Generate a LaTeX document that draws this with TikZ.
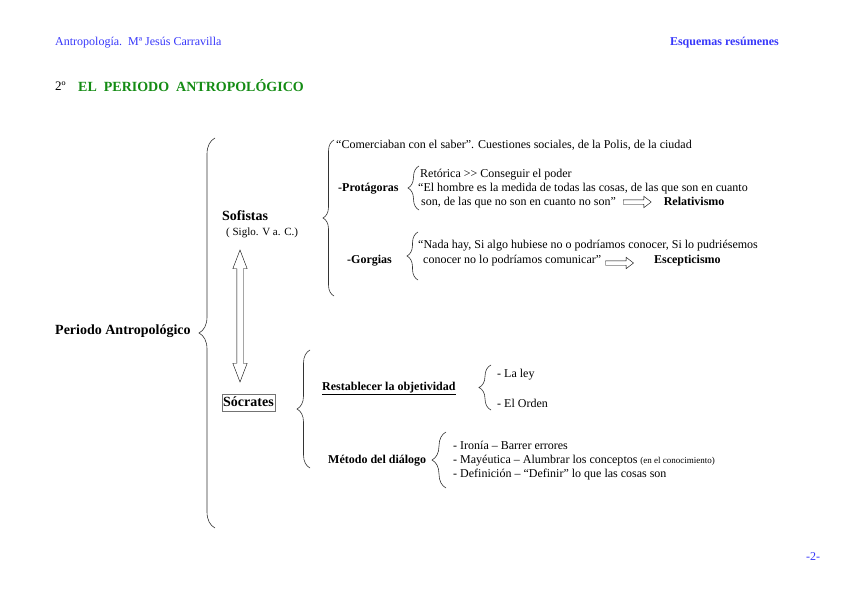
\documentclass[tikz,border=0pt]{standalone}
\usepackage{fontspec}
\setmainfont{Liberation Serif}
\usetikzlibrary{positioning,decorations.pathreplacing,shapes.arrows}
\definecolor{headblue}{RGB}{55,55,250}
\definecolor{titlegreen}{RGB}{20,140,20}

\begin{document}
\begin{tikzpicture}[
  x=1pt, y=-1pt,
  txt/.style={inner sep=0pt, anchor=west, text height=8.5pt, text depth=2.5pt,
    font=\fontsize{12}{14}\selectfont},
  bold/.style={txt, font=\fontsize{12}{14}\selectfont\bfseries},
  big/.style={txt, text height=10pt, text depth=3pt,
    font=\fontsize{14}{16}\selectfont\bfseries},
  curly/.style={decorate, decoration={brace, amplitude=#1}, line width=0.6pt,
    draw=black!80},
  hollow/.style={single arrow, draw, inner sep=2pt, minimum height=28pt,
    single arrow head extend=3.5pt, single arrow tip angle=75},
  node distance=6pt
]
\useasboundingbox (0,0) rectangle (848,599);

% page header
\node[txt, text=headblue] (author) at (55,43) {Antropología.\ \ Mª Jesús Carravilla};
\node[bold, text=headblue, anchor=east] (esq) at (779,43) {Esquemas resúmenes};
\node[txt, font=\fontsize{13}{15}\selectfont] (num) at (55,88) {2º};
\node[big, text=titlegreen] (title) at (78,88) {EL\ \ PERIODO\ \ ANTROPOLÓGICO};

% left column
\node[big] (peri) at (55,331) {Periodo Antropológico};
\node[big] (sof) at (222,217) {Sofistas};
\node[txt, font=\fontsize{11}{13}\selectfont] (siglo) at (226,232) {( Siglo. V a. C.)};
\node[big, draw=black!55, inner xsep=1pt, minimum height=17pt] (soc) at (222,403) {Sócrates};
\node[double arrow, draw, inner sep=3pt, minimum height=132pt,
  double arrow head extend=4pt, double arrow tip angle=42, rotate=90] (dblarrow) at (240,316) {};

% sofistas
\node[txt] (comer) at (336,146) {“Comerciaban con el saber”. Cuestiones sociales, de la Polis, de la ciudad};
\node[bold] (prot) at (338,188) {-Protágoras};
\node[txt] (ret) at (420,174) {Retórica >{}> Conseguir el poder};
\node[txt] (hombre) at (418,188) {“El hombre es la medida de todas las cosas, de las que son en cuanto};
\node[txt] (son) at (421,202) {son, de las que no son en cuanto no son”};
\node[hollow, right=7pt of son] (relarrow) {};
\node[bold, right=12pt of relarrow] (rel) {Relativismo};

\node[bold] (gorg) at (347,260) {-Gorgias};
\node[txt] (nada) at (418,245) {“Nada hay, Si algo hubiese no o podríamos conocer, Si lo pudriésemos};
\node[txt] (conocer) at (423,260) {conocer no lo podríamos comunicar”};
\node[hollow, right=4pt of conocer, yshift=-3pt] (escarrow) {};
\node[bold, right=20pt of escarrow, yshift=3pt] (esc) {Escepticismo};

% socrates
\node[bold] (restab) at (322,387) {\underline{Restablecer la objetividad}};
\node[txt] (ley) at (497,374) {- La ley};
\node[txt] (orden) at (497,404) {- El Orden};
\node[bold] (metodo) at (328,460) {Método del diálogo};
\node[txt] (ironia) at (453,446) {- Ironía – Barrer errores};
\node[txt] (mayeut) at (453,460) {- Mayéutica – Alumbrar los conceptos {\fontsize{9}{10}\selectfont (en el conocimiento)}};
\node[txt] (defin) at (453,474) {- Definición – “Definir” lo que las cosas son};

\node[txt, text=headblue] (pagenum) at (806,557) {-2-};

% braces
\draw[curly=16pt] (215,528) -- (215,138);
\draw[curly=11pt] (334,296) -- (334,140);
\draw[curly=11pt] (419,210) -- (419,166);
\draw[curly=11pt] (418,280) -- (418,232);
\draw[curly=13pt] (310,468) -- (310,350);
\draw[curly=12pt] (491,410) -- (491,365);
\draw[curly=14pt] (446,488) -- (446,432);
\end{tikzpicture}
\end{document}
